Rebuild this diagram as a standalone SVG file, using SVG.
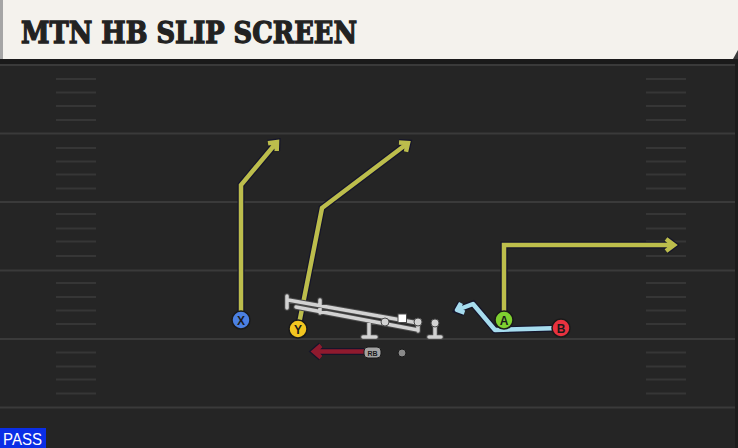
<svg xmlns="http://www.w3.org/2000/svg" width="738" height="448" viewBox="0 0 738 448">
<defs>
<style>
.yl{stroke:#3a3a3a;stroke-width:2;fill:none}
.hs{stroke:#363636;stroke-width:2;fill:none}
.out{fill:none;stroke:#15152a;stroke-width:7;stroke-linejoin:miter;stroke-linecap:butt}
.ry{fill:none;stroke:#bcbd4c;stroke-width:4.5;stroke-linejoin:miter;stroke-linecap:butt}
.rb{fill:none;stroke:#a6dcee;stroke-width:4.5;stroke-linejoin:round;stroke-linecap:butt}
.rr{fill:none;stroke:#8f1a2e;stroke-width:4.5;stroke-linejoin:miter;stroke-linecap:butt}
.ol{fill:none;stroke:#4a4a4a;stroke-width:5.5;stroke-linecap:round}
.olc{fill:none;stroke:#d2d2d2;stroke-width:3.5;stroke-linecap:round}
.pc{stroke:#1a1a1a;stroke-width:1.5}
.pl{font-family:"Liberation Sans",Arial,sans-serif;font-weight:bold;font-size:12px;fill:#1a1a1a;text-anchor:middle}
</style>
</defs>
<rect x="0" y="0" width="738" height="448" fill="#252525"/>
<g id="header">
<rect x="0" y="59" width="738" height="5" fill="#1a1a1a"/>
<rect x="0" y="0" width="738" height="59" fill="#f4f2ed"/>
<rect x="0" y="0" width="3" height="59" fill="#a5a5a5"/>
<polygon points="738,50 738,59 733,59" fill="#3a3a3a"/>
<text x="21" y="43" font-family="'DejaVu Serif',serif" font-weight="bold" font-size="29" fill="#222222" stroke="#222222" stroke-width="1.3" textLength="336" lengthAdjust="spacingAndGlyphs">MTN HB SLIP SCREEN</text>
</g>
<g id="field">
<path class="yl" d="M0 65H738M0 133.5H738M0 202H738M0 270.5H738M0 339H738M0 407.5H738"/>
<path class="hs" d="M56 79H96M56 92.5H96M56 106H96M56 120H96M56 148H96M56 161.5H96M56 174.5H96M56 188.5H96M56 214H96M56 228.5H96M56 241.5H96M56 256H96M56 283H96M56 297H96M56 310.5H96M56 324H96M56 352.5H96M56 366.5H96M56 379.5H96M56 393.5H96"/>
<path class="hs" d="M646 79H686M646 92.5H686M646 106H686M646 120H686M646 148H686M646 161.5H686M646 174.5H686M646 188.5H686M646 214H686M646 228.5H686M646 241.5H686M646 256H686M646 283H686M646 297H686M646 310.5H686M646 324H686M646 352.5H686M646 366.5H686M646 379.5H686M646 393.5H686"/>
<rect x="735" y="64" width="3" height="384" fill="#1c1c1c"/>
</g>
<g id="connectors">
<path class="out" d="M241 320V185L277 142M268 143.3L277 142L276.7 151"/>
<path class="ry" d="M241 320V185L277 142M268 143.3L277 142L276.7 151"/>
<path class="out" d="M298 329L322 208L408 143M399 142.5L408 143L406 151.8"/>
<path class="ry" d="M298 329L322 208L408 143M399 142.5L408 143L406 151.8"/>
<path class="out" d="M504 320V245H674M666 239L674 245L666 251"/>
<path class="ry" d="M504 320V245H674M666 239L674 245L666 251"/>
<path class="out" d="M561 328L495 330L473 304L457 310M464.5 312.7L457 310L461 303"/>
<path class="rb" d="M561 328L495 330L473 304L457 310M464.5 312.7L457 310L461 303"/>
<path class="out" d="M366 351.5H314M321 345.5L314 351.5L321 357.5"/>
<path class="rr" d="M366 351.5H314M321 345.5L314 351.5L321 357.5"/>
</g>
<g id="oline">
<path class="ol" d="M288 300L418 323M296 307L418 330M287 296V308M320 300V313M418 322V331M369 323V337M363 337H376M435 323V337M429 337H441"/>
<path class="olc" d="M288 300L418 323M296 307L418 330M287 296V308M320 300V313M418 322V331M369 323V337M363 337H376M435 323V337M429 337H441"/>
<circle cx="385" cy="322" r="4" fill="#d2d2d2" stroke="#4a4a4a" stroke-width="1"/>
<circle cx="418" cy="322" r="4" fill="#d2d2d2" stroke="#4a4a4a" stroke-width="1"/>
<circle cx="435" cy="323" r="4" fill="#d2d2d2" stroke="#4a4a4a" stroke-width="1"/>
<rect x="398" y="314" width="8.5" height="8.5" fill="#ffffff" stroke="#4a4a4a" stroke-width="1"/>
</g>
<g id="X"><circle class="pc" cx="241" cy="320" r="9" fill="#4b80e2"/><text class="pl" x="241" y="324.5">X</text></g>
<g id="Y"><circle class="pc" cx="298" cy="329" r="9" fill="#f2c520"/><text class="pl" x="298" y="333.5">Y</text></g>
<g id="A"><circle class="pc" cx="504" cy="320" r="9" fill="#7fd030"/><text class="pl" x="504" y="324.5">A</text></g>
<g id="B"><circle class="pc" cx="561" cy="328" r="9" fill="#e8323f"/><text class="pl" x="561" y="332.5">B</text></g>
<g id="RB"><rect x="364" y="347" width="17" height="11" rx="4" fill="#a3a3a3" stroke="#1a1a1a" stroke-width="1"/><text x="372.5" y="355.5" font-family="'Liberation Sans',Arial,sans-serif" font-weight="bold" font-size="7" fill="#1a1a1a" text-anchor="middle">RB</text></g>
<g id="QB"><circle cx="402" cy="353" r="4" fill="#8a8a8a" stroke="#1a1a1a" stroke-width="1"/></g>
<g id="pass"><rect x="0" y="428" width="46" height="20" fill="#0a2ee6"/><text x="3" y="444.5" font-family="'Liberation Sans',Arial,sans-serif" font-size="16" fill="#ffffff" textLength="39" lengthAdjust="spacingAndGlyphs">PASS</text></g>
</svg>
